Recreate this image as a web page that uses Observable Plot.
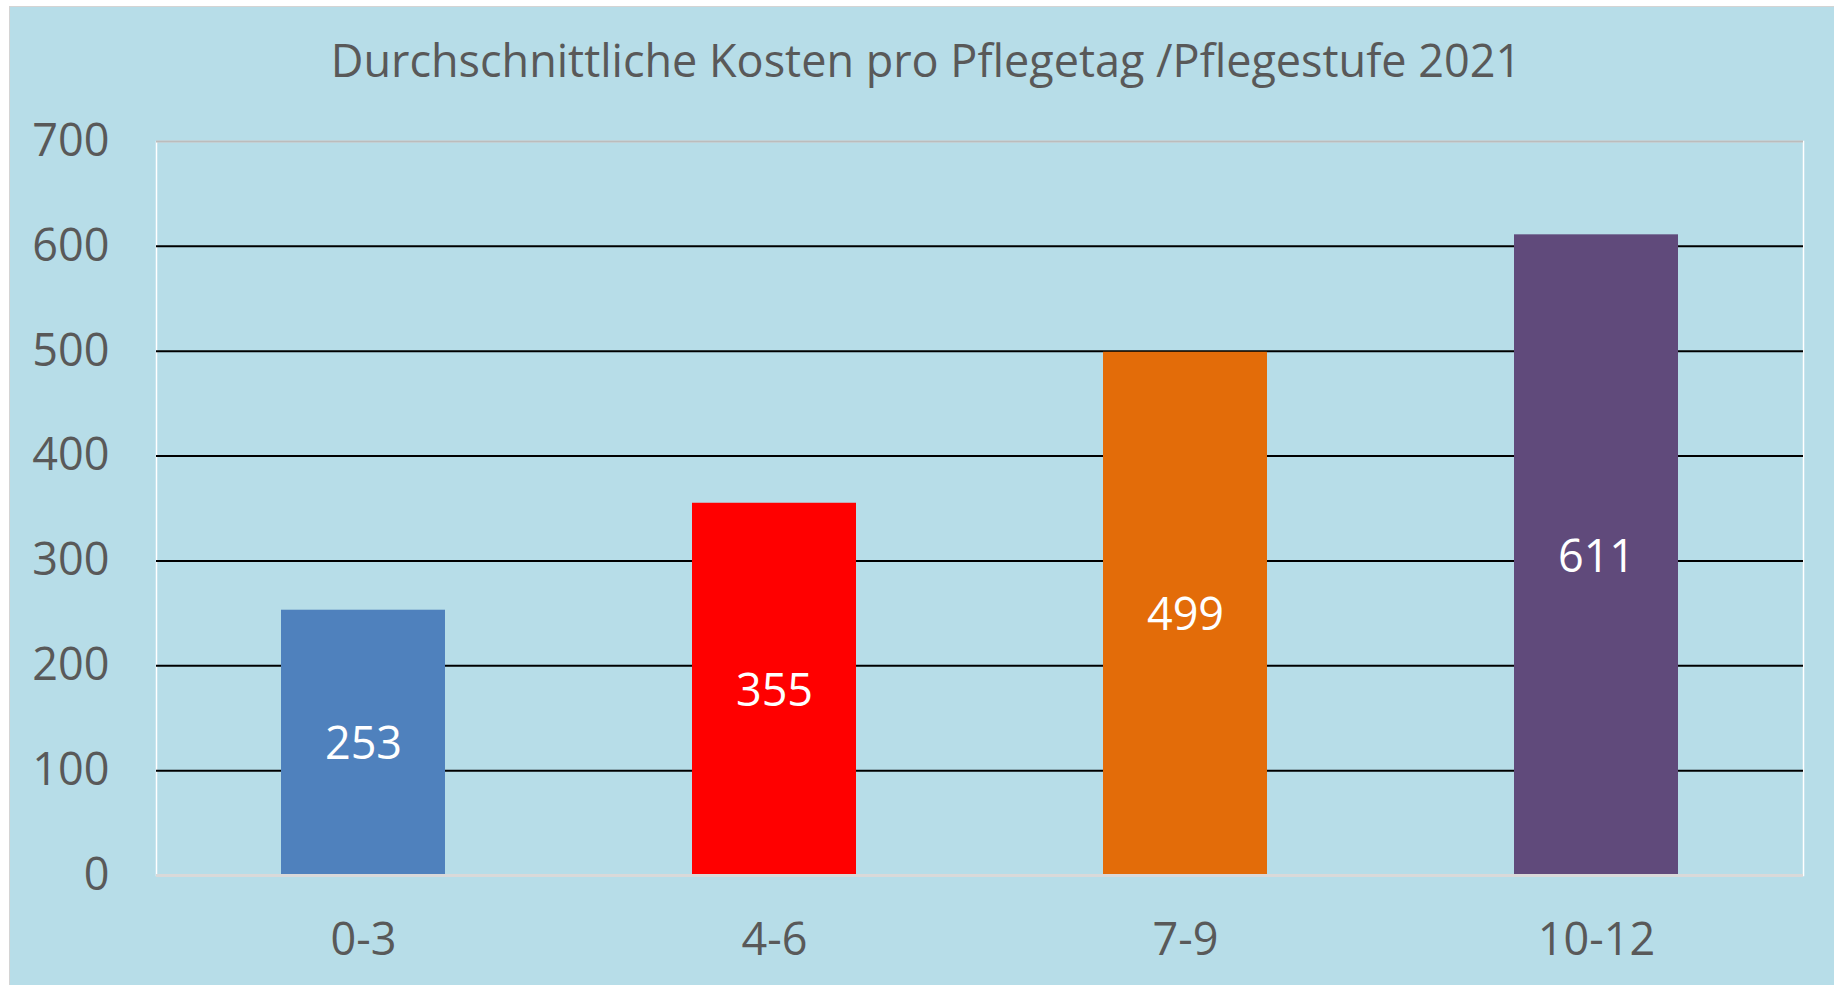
<!DOCTYPE html>
<html>
<head>
<meta charset="utf-8">
<script src="https://cdn.jsdelivr.net/npm/d3@7"></script>
<script src="https://cdn.jsdelivr.net/npm/@observablehq/plot@0.6"></script>
<style>
  html, body { margin: 0; padding: 0; background: #ffffff; width: 1834px; height: 985px; overflow: hidden; }
  #frame { position: absolute; left: 9px; top: 6px; width: 1825px; height: 979px; background: #B7DDE8;
           border-left: 1px solid #d4d4d4; border-top: 1px solid #d4d4d4; box-sizing: border-box; }
  #title { position: absolute; left: 4px; width: 1824px; text-align: center; font-family: "Open Sans", sans-serif;
           font-size: 45px; color: #595959; white-space: nowrap; line-height: normal; }
  #chart { position: absolute; left: 0; top: 93px; }
</style>
</head>
<body>
<div id="frame">
  <div id="title">Durchschnittliche Kosten pro Pflegetag /Pflegestufe 2021</div>
  <div id="chart"></div>
</div>
<script>
const categories = ["0-3", "4-6", "7-9", "10-12"];
const values = [253, 355, 499, 611];
const yTicks = [0, 100, 200, 300, 400, 500, 600, 700];
const palette = ["#4F81BD", "#FF0000", "#E36C09", "#604A7B"];

const data = categories.map((c, i) => ({cat: c, value: values[i]}));

const titleEl = document.getElementById("title");
titleEl.style.top = (70 - 1.069 * 45) + "px";

const chart = Plot.plot({
  width: 1824,
  height: 885,
  marginTop: 41,
  marginBottom: 110,
  marginLeft: 146,
  marginRight: 31,
  style: {background: "transparent", fontFamily: "Open Sans, sans-serif", color: "#595959", overflow: "visible"},
  x: {domain: categories, paddingInner: 0.6, paddingOuter: 0.3, label: null},
  y: {domain: [0, 700], label: null},
  color: {domain: categories, range: palette},
  marks: [
    Plot.frame({stroke: "#ffffff", strokeWidth: 1.5}),
    Plot.ruleY(yTicks.filter(d => d > 0 && d < 700), {stroke: "#000000", strokeWidth: 2}),
    Plot.ruleY([700], {stroke: "#bcbcbc", strokeWidth: 2}),
    Plot.barY(data, {x: "cat", y: "value", fill: "cat"}),
    Plot.ruleY([0], {stroke: "#d9d9d9", strokeWidth: 3}),
    Plot.text(data, {x: "cat", y: d => d.value / 2, text: d => String(d.value), fill: "#ffffff", fontSize: 45, dy: 2}),
    Plot.axisY({ticks: yTicks, tickSize: 0, tickPadding: 47, fontSize: 45, label: null}),
    Plot.axisX({tickSize: 0, tickPadding: 48, fontSize: 45, label: null})
  ]
});
document.getElementById("chart").appendChild(chart);
</script>
</body>
</html>
